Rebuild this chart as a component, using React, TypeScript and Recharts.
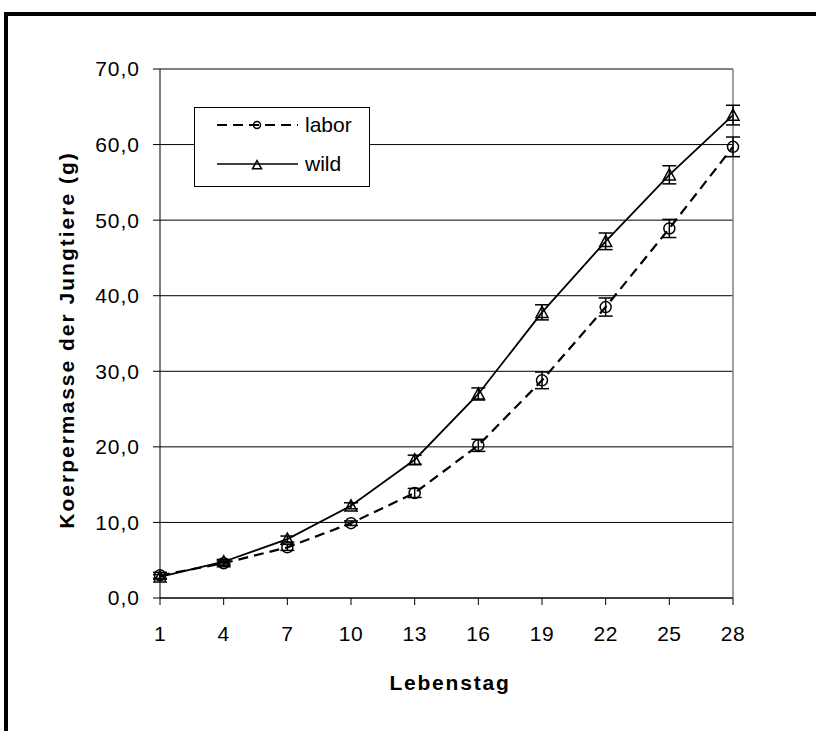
import { LineChart, Line, XAxis, YAxis, CartesianGrid, ErrorBar, ReferenceLine, Legend, Label } from "recharts";

const days = [1, 4, 7, 10, 13, 16, 19, 22, 25, 28];
const labor = [3.0, 4.6, 6.7, 9.9, 13.9, 20.2, 28.8, 38.5, 48.9, 59.7];
const laborErr = [0.4, 0.3, 0.4, 0.3, 0.6, 0.8, 1.1, 1.2, 1.2, 1.3];
const wild = [2.8, 4.8, 7.8, 12.2, 18.3, 27.0, 37.8, 47.2, 56.0, 63.9];
const wildErr = [0.3, 0.3, 0.4, 0.4, 0.6, 0.8, 1.0, 1.1, 1.2, 1.3];
const yTicks = [0, 10, 20, 30, 40, 50, 60, 70];

const data = days.map((day, i) => ({
  day,
  labor: labor[i],
  laborErr: laborErr[i],
  wild: wild[i],
  wildErr: wildErr[i],
}));

const FONT = '"Liberation Sans", Arial, sans-serif';
const fmt = (v: number) => v.toFixed(1).replace(".", ",");

const CircleDot = (props: any) => {
  const { cx, cy, radius = 5.5 } = props;
  if (cx == null || cy == null) return null;
  return <circle cx={cx} cy={cy} r={radius} fill="none" stroke="#000" strokeWidth={1.5} />;
};

const TriangleDot = (props: any) => {
  const { cx, cy, s = 6 } = props;
  if (cx == null || cy == null) return null;
  return (
    <path
      d={`M${cx},${cy - s} L${cx + s},${cy + s * 0.85} L${cx - s},${cy + s * 0.85} Z`}
      fill="none"
      stroke="#000"
      strokeWidth={1.5}
    />
  );
};

// legend box drawn by hand, sits on top of the 60 gridline
const LegendBox = () => (
  <div style={{ width: 176, height: 80, border: "1px solid #000", background: "#fff", boxSizing: "border-box" }}>
    <svg width={174} height={78} style={{ display: "block" }}>
      <line x1={22} y1={17} x2={103} y2={17} stroke="#000" strokeWidth={1.8} strokeDasharray="10 6" />
      <CircleDot cx={62} cy={17} radius={3.5} />
      <text x={110} y={17} dy="0.35em" fontFamily={FONT} fontSize={21}>labor</text>
      <line x1={22} y1={56} x2={103} y2={56} stroke="#000" strokeWidth={1.5} />
      <TriangleDot cx={62} cy={57} s={4.5} />
      <text x={110} y={56} dy="0.35em" fontFamily={FONT} fontSize={21}>wild</text>
    </svg>
  </div>
);

export default function App() {
  return (
    <div style={{ position: "absolute", left: 0, top: 0, width: 816, height: 731, overflow: "hidden", background: "#fff" }}>
      <div
        style={{
          position: "absolute",
          left: 4,
          top: 12,
          width: 812,
          height: 719,
          borderTop: "4px solid #000",
          borderLeft: "4px solid #000",
          boxSizing: "border-box",
        }}
      />
      <div style={{ position: "absolute", left: 0, top: 0 }}>
        <LineChart width={816} height={731} data={data} margin={{ top: 69, right: 83, bottom: 73, left: 60 }}>
          <CartesianGrid vertical={false} stroke="#000" strokeWidth={1} />
          <ReferenceLine y={70} stroke="#808080" strokeWidth={1.5} />
          <ReferenceLine x={28} stroke="#808080" strokeWidth={1.5} />
          <XAxis
            dataKey="day"
            type="number"
            domain={[1, 28]}
            ticks={days}
            interval={0}
            height={60}
            tickSize={7}
            tickMargin={21}
            stroke="#000"
            tick={{ fill: "#000", fontSize: 21, fontFamily: FONT, letterSpacing: 0.5 }}
          >
            <Label
              content={() => (
                <text x={450} y={690} textAnchor="middle" fontFamily={FONT} fontSize={21} fontWeight="bold" letterSpacing={1.8}>
                  Lebenstag
                </text>
              )}
            />
          </XAxis>
          <YAxis
            domain={[0, 70]}
            ticks={yTicks}
            interval={0}
            width={100}
            tickSize={7}
            tickMargin={13}
            tickFormatter={fmt}
            stroke="#000"
            tick={{ fill: "#000", fontSize: 21, fontFamily: FONT, letterSpacing: 1 }}
          >
            <Label
              content={() => (
                <text
                  x={66}
                  y={340}
                  transform="rotate(-90, 66, 340)"
                  textAnchor="middle"
                  dominantBaseline="central"
                  fontFamily={FONT}
                  fontSize={21}
                  fontWeight="bold"
                  letterSpacing={2}
                >
                  Koerpermasse der Jungtiere (g)
                </text>
              )}
            />
          </YAxis>
          <Legend
            layout="vertical"
            align="center"
            verticalAlign="middle"
            content={() => <LegendBox />}
            wrapperStyle={{ position: "absolute", left: 194, top: 107, width: 176, height: 80 }}
          />
          <Line
            type="linear"
            dataKey="labor"
            stroke="#000"
            strokeWidth={2.2}
            strokeDasharray="10 6"
            dot={<CircleDot />}
            isAnimationActive={false}
          >
            <ErrorBar dataKey="laborErr" width={7} stroke="#000" strokeWidth={1.5} isAnimationActive={false} />
          </Line>
          <Line
            type="linear"
            dataKey="wild"
            stroke="#000"
            strokeWidth={1.8}
            dot={<TriangleDot />}
            isAnimationActive={false}
          >
            <ErrorBar dataKey="wildErr" width={7} stroke="#000" strokeWidth={1.5} isAnimationActive={false} />
          </Line>
        </LineChart>
      </div>
    </div>
  );
}
